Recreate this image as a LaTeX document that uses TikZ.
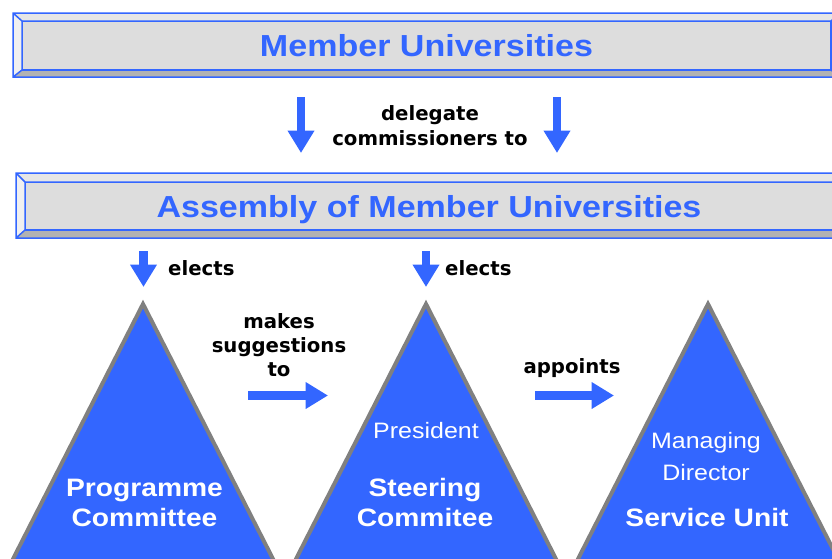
\documentclass[tikz,border=0pt]{standalone}
\usepackage{fontspec}
\usetikzlibrary{arrows.meta,calc}
\newfontfamily\headfont[FakeStretch=1.12]{Liberation Sans}
\newfontfamily\labelfont{DejaVu Sans}
\definecolor{mblue}{HTML}{3366FF}
\definecolor{tgray}{HTML}{808080}
\definecolor{barface}{HTML}{DDDDDD}
\definecolor{bevT}{HTML}{E6E6E6}
\definecolor{bevL}{HTML}{F0F0F0}
\definecolor{bevB}{HTML}{B2B2B2}
\definecolor{bevR}{HTML}{A6A6A6}
\tikzset{
  barnode/.style={draw=mblue, line width=1.5pt, fill=barface, text=mblue,
    font=\headfont\bfseries\fontsize{30.4}{34}\selectfont,
    inner sep=0pt, outer sep=0pt, text depth=0pt},
  bevline/.style={draw=mblue, line width=1.5pt, line join=miter},
  lbl/.style={font=\labelfont\bfseries\fontsize{19.7}{24.3}\selectfont,
    inner sep=0pt, align=center, text=black},
  tribold/.style={text=white, font=\headfont\bfseries\fontsize{25.2}{30}\selectfont,
    inner sep=0pt, align=center},
  trireg/.style={text=white, font=\headfont\fontsize{22.3}{32}\selectfont,
    inner sep=0pt, align=center},
  tri/.style={draw=tgray, line width=4pt, fill=mblue, line join=miter},
  fatarrow/.style={draw=mblue, line width=8.5pt,
    -{Triangle[width=25.5pt,length=22.5pt]}}
}
\newcommand\bevelbar[5]{%
  \path (#1.north west) ++(-#2,-#3) coordinate (#1-onw)
        (#1.north east) ++(#4,-#3) coordinate (#1-one)
        (#1.south east) ++(#4,#5) coordinate (#1-ose)
        (#1.south west) ++(-#2,#5) coordinate (#1-osw);
  \fill[bevT] (#1-onw) -- (#1-one) -- (#1.north east) -- (#1.north west) -- cycle;
  \fill[bevL] (#1-onw) -- (#1.north west) -- (#1.south west) -- (#1-osw) -- cycle;
  \fill[bevB] (#1-osw) -- (#1.south west) -- (#1.south east) -- (#1-ose) -- cycle;
  \fill[bevR] (#1-one) -- (#1.north east) -- (#1.south east) -- (#1-ose) -- cycle;
  \draw[bevline] (#1-onw) rectangle (#1-ose)
    (#1.north west) rectangle (#1.south east)
    (#1-onw) -- (#1.north west) (#1-one) -- (#1.north east)
    (#1-osw) -- (#1.south west) (#1-ose) -- (#1.south east);
}
\begin{document}
\begin{tikzpicture}[x=1pt,y=-1pt]
\useasboundingbox (0,0) rectangle (832,558);
\clip (0,0) rectangle (832,558);
% bars
\node[barnode, minimum width=809pt, minimum height=49pt] (mu) at (426.5,45.5) {Member Universities};
\bevelbar{mu}{9}{8}{9}{7}
\node[barnode, minimum width=808pt, minimum height=48pt] (amu) at (429,206) {Assembly of Member Universities};
\bevelbar{amu}{9}{9}{9}{8}
% delegate arrows
\coordinate (d1s) at (301,97);  \coordinate (d1e) at (301,153);
\coordinate (d2s) at (557,97);  \coordinate (d2e) at (557,153);
\draw[fatarrow] (d1s) -- (d1e);
\draw[fatarrow] (d2s) -- (d2e);
\node[lbl, anchor=base] (deleg) at (430,145) {delegate\\commissioners to};
% triangles
\coordinate (pcapex) at (143,304);
\coordinate (scapex) at (426,304);
\coordinate (suapex) at (708,304);
\draw[tri] (pcapex) -- ++(-155.5,305) -- ++(311,0) -- cycle;
\draw[tri] (scapex) -- ++(-155.5,305) -- ++(311,0) -- cycle;
\draw[tri] (suapex) -- ++(-155.5,305) -- ++(311,0) -- cycle;
% elects arrows
\coordinate (e1s) at (143.5,251); \coordinate (e1e) at (143.5,287);
\coordinate (e2s) at (426,251);   \coordinate (e2e) at (426,287);
\draw[fatarrow] (e1s) -- (e1e);
\draw[fatarrow] (e2s) -- (e2e);
\node[lbl, anchor=base west] (el1) at (168,275) {elects};
\node[lbl, anchor=base west] (el2) at (445,275) {elects};
% horizontal arrows
\coordinate (h1s) at (248,395.5); \coordinate (h1e) at (328,395.5);
\coordinate (h2s) at (535,395.5); \coordinate (h2e) at (614,395.5);
\draw[fatarrow] (h1s) -- (h1e);
\draw[fatarrow] (h2s) -- (h2e);
\node[lbl, anchor=base] (mk) at (279,376.7) {makes\\suggestions\\to};
\node[lbl, anchor=base] (ap) at (572,373) {appoints};
% triangle texts
\node[tribold, anchor=base] (pc) at (144.5,526.7) {Programme\\Committee};
\node[trireg, anchor=base] (pres) at (426,438.3) {President};
\node[tribold, anchor=base] (sc) at (425,526.5) {Steering\\Commitee};
\node[trireg, anchor=base] (md) at (706,480) {Managing\\Director};
\node[tribold, anchor=base] (su) at (707,526) {Service Unit};
\end{tikzpicture}
\end{document}
